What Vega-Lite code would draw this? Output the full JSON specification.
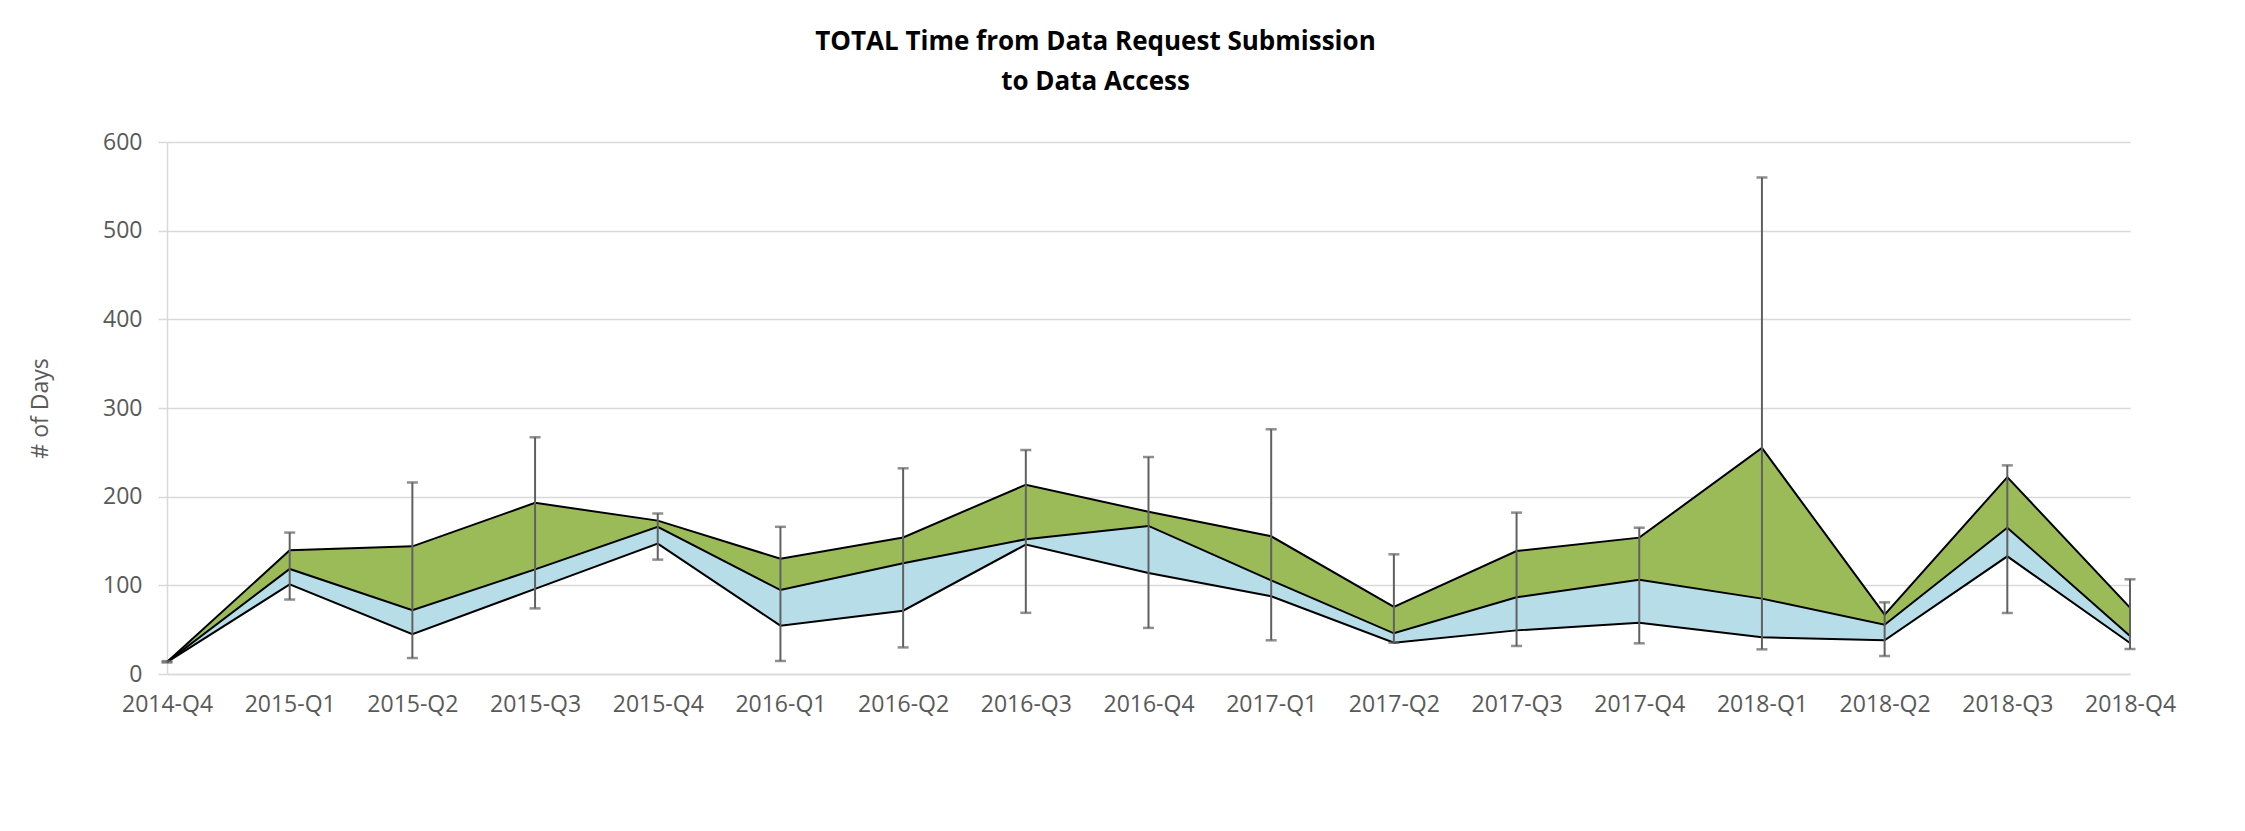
{
  "$schema": "https://vega.github.io/schema/vega-lite/v6.json",
  "autosize": {"type": "none"},
  "padding": {"left": 167, "top": 142, "right": 115, "bottom": 157},
  "width": 1963,
  "height": 532,
  "background": "white",
  "config": {
    "font": "Open Sans",
    "view": {"stroke": null},
    "axis": {"labelFont": "Open Sans", "titleFont": "Open Sans"}
  },
  "title": {
    "text": ["TOTAL Time from Data Request Submission", "to Data Access"],
    "font": "Open Sans",
    "fontSize": 26,
    "fontWeight": "bold",
    "color": "#000000",
    "lineHeight": 40,
    "anchor": "middle",
    "dx": -53,
    "offset": 36
  },
  "data": {
    "values": [
      {"q": "2014-Q4", "lo": 13.5, "med": 13.5, "hi": 13.5, "mn": 13, "mx": 14.5},
      {"q": "2015-Q1", "lo": 101, "med": 118.5, "hi": 139.5, "mn": 84, "mx": 159.5},
      {"q": "2015-Q2", "lo": 45, "med": 72, "hi": 144, "mn": 18, "mx": 216},
      {"q": "2015-Q3", "lo": 96, "med": 118, "hi": 193, "mn": 74, "mx": 267},
      {"q": "2015-Q4", "lo": 147, "med": 166, "hi": 173, "mn": 129, "mx": 181},
      {"q": "2016-Q1", "lo": 54.5, "med": 94.7, "hi": 130, "mn": 14.7, "mx": 166},
      {"q": "2016-Q2", "lo": 71.4, "med": 125, "hi": 154, "mn": 30, "mx": 232},
      {"q": "2016-Q3", "lo": 146, "med": 152, "hi": 213.5, "mn": 69, "mx": 252.6},
      {"q": "2016-Q4", "lo": 114, "med": 167, "hi": 183, "mn": 52, "mx": 244.7},
      {"q": "2017-Q1", "lo": 87.6, "med": 105.6, "hi": 155.3, "mn": 38, "mx": 276},
      {"q": "2017-Q2", "lo": 35.3, "med": 45.9, "hi": 75.6, "mn": 35.3, "mx": 135},
      {"q": "2017-Q3", "lo": 49.2, "med": 86.5, "hi": 138.7, "mn": 31.6, "mx": 182},
      {"q": "2017-Q4", "lo": 57.9, "med": 106.4, "hi": 153.8, "mn": 34.6, "mx": 165},
      {"q": "2018-Q1", "lo": 41.4, "med": 85, "hi": 255, "mn": 27.8, "mx": 560},
      {"q": "2018-Q2", "lo": 38, "med": 55.6, "hi": 67, "mn": 20.3, "mx": 80.8},
      {"q": "2018-Q3", "lo": 132.7, "med": 165, "hi": 222, "mn": 68.8, "mx": 235.3},
      {"q": "2018-Q4", "lo": 35, "med": 42.9, "hi": 74.8, "mn": 28.2, "mx": 106.8}
    ]
  },
  "encoding": {
    "x": {
      "field": "q",
      "type": "ordinal",
      "scale": {"type": "point", "padding": 0},
      "axis": {
        "title": null,
        "labelAngle": 0,
        "labelFontSize": 23,
        "labelColor": "#595959",
        "labelPadding": 19,
        "ticks": false,
        "grid": false,
        "domainColor": "#d9d9d9",
        "domainWidth": 1.5
      }
    }
  },
  "layer": [
    {
      "mark": {"type": "area", "color": "#b7dde8", "opacity": 1},
      "encoding": {
        "y": {
          "field": "lo",
          "type": "quantitative",
          "scale": {"domain": [0, 600], "nice": false},
          "axis": {
            "title": "# of Days",
            "titleFontSize": 23,
            "titleFontWeight": "normal",
            "titleColor": "#595959",
            "titlePadding": 50,
            "values": [0, 100, 200, 300, 400, 500, 600],
            "labelFontSize": 23,
            "labelColor": "#595959",
            "labelPadding": 16,
            "tickSize": 9,
            "tickColor": "#d9d9d9",
            "tickWidth": 1.5,
            "gridColor": "#d9d9d9",
            "gridWidth": 1.5,
            "domainColor": "#d9d9d9",
            "domainWidth": 1.5
          }
        },
        "y2": {"field": "med"}
      }
    },
    {
      "mark": {"type": "area", "color": "#9bbb59", "opacity": 1},
      "encoding": {
        "y": {"field": "med", "type": "quantitative"},
        "y2": {"field": "hi"}
      }
    },
    {
      "mark": {"type": "line", "color": "#000000", "strokeWidth": 2},
      "encoding": {"y": {"field": "lo", "type": "quantitative"}}
    },
    {
      "mark": {"type": "line", "color": "#000000", "strokeWidth": 2},
      "encoding": {"y": {"field": "med", "type": "quantitative"}}
    },
    {
      "mark": {"type": "line", "color": "#000000", "strokeWidth": 2},
      "encoding": {"y": {"field": "hi", "type": "quantitative"}}
    },
    {
      "mark": {"type": "rule", "color": "#606060", "strokeWidth": 2},
      "encoding": {
        "y": {"field": "mn", "type": "quantitative"},
        "y2": {"field": "mx"}
      }
    },
    {
      "mark": {"type": "tick", "orient": "horizontal", "color": "#606060", "size": 11, "thickness": 2.5},
      "encoding": {"y": {"field": "mn", "type": "quantitative"}}
    },
    {
      "mark": {"type": "tick", "orient": "horizontal", "color": "#606060", "size": 11, "thickness": 2.5},
      "encoding": {"y": {"field": "mx", "type": "quantitative"}}
    }
  ]
}
